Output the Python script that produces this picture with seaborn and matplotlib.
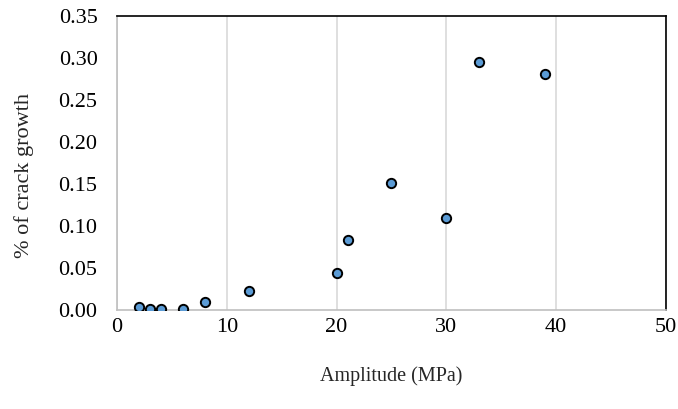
import matplotlib
matplotlib.use("Agg")
import matplotlib.pyplot as plt
import seaborn as sns
import pandas as pd

# values
amplitude = [2, 3, 4, 6, 8, 12, 20, 21, 25, 30, 33, 39]
crack_growth = [0.004, 0.001, 0.001, 0.0015, 0.010, 0.023, 0.044, 0.083,
                0.151, 0.109, 0.295, 0.281]
x_ticks = [0, 10, 20, 30, 40, 50]
y_ticks = [0.00, 0.05, 0.10, 0.15, 0.20, 0.25, 0.30, 0.35]

df = pd.DataFrame({"amplitude": amplitude, "growth": crack_growth})

sns.set_style("white")
plt.rcParams["font.family"] = ["Liberation Serif", "DejaVu Serif"]

fig = plt.figure(figsize=(6.78, 4.09), dpi=100)
ax = fig.add_axes([0.1726, 0.242, 0.8094, 0.719])

ax.xaxis.grid(True, color="#d9d9d9", lw=1.2)
ax.yaxis.grid(False)
ax.set_axisbelow(True)

sns.scatterplot(data=df, x="amplitude", y="growth", ax=ax, s=45,
                color="#5b9bd5", edgecolor="black", linewidth=1.4, zorder=3)

ax.set_xlim(0, 50)
ax.set_ylim(0, 0.35)
ax.set_xticks(x_ticks)
ax.set_yticks(y_ticks)
ax.set_yticklabels([f"{v:.2f}" for v in y_ticks])
ax.tick_params(axis="both", length=0, labelsize=16, colors="black")
ax.tick_params(axis="x", pad=6)
ax.tick_params(axis="y", pad=14)

for side in ["left", "bottom"]:
    ax.spines[side].set_color("#bfbfbf")
    ax.spines[side].set_linewidth(1.2)
for side in ["top", "right"]:
    ax.spines[side].set_color("black")
    ax.spines[side].set_linewidth(1.2)
    ax.spines[side].set_visible(True)

ax.set_xlabel("Amplitude (MPa)", fontsize=14.5, labelpad=21)
ax.set_ylabel("% of crack growth", fontsize=16)
# title sits a bit below the middle of the plot area in the original
ax.yaxis.set_label_coords(-0.152, 0.456)

fig.savefig("out.png", dpi=100)
